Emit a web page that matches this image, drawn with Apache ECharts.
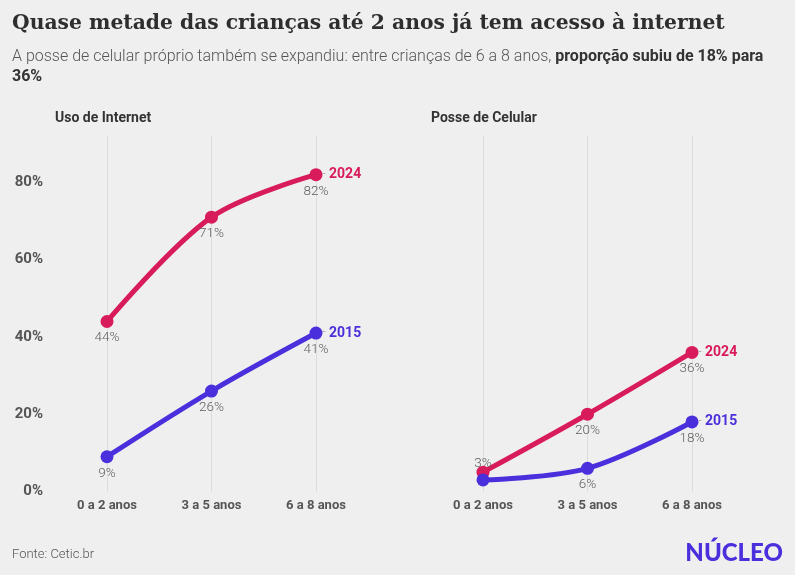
<!DOCTYPE html>
<html>
<head>
<meta charset="utf-8">
<script src="https://cdn.jsdelivr.net/npm/echarts@6/dist/echarts.min.js"></script>
<style>
  html, body { margin: 0; padding: 0; background: #efefef; }
  #chart { width: 795px; height: 575px; }
</style>
</head>
<body>
<div id="chart"></div>
<script>
// ---- Data ----
const categories = ['0 a 2 anos', '3 a 5 anos', '6 a 8 anos'];
const internet2024 = [44, 71, 82];
const internet2015 = [9, 26, 41];
const celular2024 = [5, 20, 36];
const celular2015 = [3, 6, 18];
const yTicks = [0, 20, 40, 60, 80];
const seriesNames = ['2024', '2015'];

const RED = '#d81b5b';
const BLUE = '#4a2fdc';
const FONT = 'Roboto, "Noto Sans", sans-serif';

function buildData(values, opts) {
  return values.map(function (v, i) {
    const item = { value: v };
    if (opts && opts.hide && opts.hide.indexOf(i) >= 0) item.label = { show: false };
    if (opts && opts.top && opts.top.indexOf(i) >= 0) item.label = { position: 'top' };
    return item;
  });
}

function lineSeries(name, color, values, gridIdx, opts) {
  return {
    type: 'line',
    name: name,
    xAxisIndex: gridIdx,
    yAxisIndex: gridIdx,
    data: buildData(values, opts),
    smooth: 0.34,
    symbol: 'circle',
    symbolSize: 13,
    lineStyle: { color: color, width: 5 },
    itemStyle: { color: color },
    label: {
      show: true,
      position: 'bottom',
      distance: 3,
      formatter: function (p) { return p.value + '%'; },
      color: '#5e5e5e',
      fontFamily: FONT,
      fontWeight: 300,
      fontSize: 13.5
    },
    endLabel: {
      show: true,
      distance: 6,
      formatter: function (p) { return '{d|-} {t|' + p.seriesName + '}'; },
      rich: {
        d: { color: '#999', fontFamily: FONT, fontWeight: 300, fontSize: 13 },
        t: { color: color, fontFamily: FONT, fontWeight: 'bold', fontSize: 14 }
      }
    },
    emphasis: { disabled: true },
    silent: true
  };
}

function xAxis(gridIdx) {
  return {
    type: 'category',
    gridIndex: gridIdx,
    data: categories,
    boundaryGap: false,
    axisLine: { show: false },
    axisTick: { show: false },
    axisLabel: {
      margin: 8,
      color: '#555',
      fontFamily: FONT,
      fontWeight: 'bold',
      fontSize: 13
    },
    splitLine: { show: true, lineStyle: { color: '#dcdcdc', width: 1 } }
  };
}

function yAxis(gridIdx, showLabels) {
  return {
    type: 'value',
    gridIndex: gridIdx,
    min: yTicks[0],
    max: 92,
    interval: 20,
    axisLine: { show: false },
    axisTick: { show: false },
    splitLine: { show: false },
    axisLabel: {
      show: showLabels,
      margin: 64,
      color: '#555',
      fontFamily: FONT,
      fontWeight: 'bold',
      fontSize: 15,
      formatter: function (v) { return yTicks.indexOf(v) >= 0 ? v + '%' : ''; }
    }
  };
}

const chart = echarts.init(document.getElementById('chart'));
chart.setOption({
  backgroundColor: '#efefef',
  animation: false,
  title: [
    {
      text: 'Quase metade das crianças até 2 anos já tem acesso à internet',
      left: 12, top: 10, padding: 0,
      textStyle: { fontFamily: '"DejaVu Serif", serif', fontWeight: 'bold', fontSize: 20.3, color: '#2e2e2e', lineHeight: 28 }
    },
    {
      text: '{n|A posse de celular próprio também se expandiu: entre crianças de 6 a 8 anos, }{b|proporção subiu de 18% para}\n{b|36%}',
      left: 12, top: 47, padding: 0,
      textStyle: {
        rich: {
          n: { fontFamily: FONT, fontWeight: 300, fontSize: 16, color: '#555', lineHeight: 20 },
          b: { fontFamily: FONT, fontWeight: 'bold', fontSize: 16, color: '#333', lineHeight: 20 }
        }
      }
    },
    {
      text: 'Uso de Internet', left: 55, top: 109, padding: 0,
      textStyle: { fontFamily: FONT, fontWeight: 'bold', fontSize: 14, color: '#333', lineHeight: 18 }
    },
    {
      text: 'Posse de Celular', left: 431, top: 109, padding: 0,
      textStyle: { fontFamily: FONT, fontWeight: 'bold', fontSize: 14, color: '#333', lineHeight: 18 }
    },
    {
      text: 'Fonte: Cetic.br', left: 12, top: 547, padding: 0,
      textStyle: { fontFamily: FONT, fontWeight: 300, fontSize: 13, color: '#555', lineHeight: 16 }
    }
  ],
  graphic: [
    {
      type: 'text', right: 12, top: 541,
      style: { text: 'NÚCLEO', fill: BLUE, font: '900 24px Lato, Roboto, sans-serif' }
    }
  ],
  grid: [
    { left: 107, width: 209, top: 136, bottom: 83.5 },
    { left: 483, width: 209, top: 136, bottom: 83.5 }
  ],
  xAxis: [xAxis(0), xAxis(1)],
  yAxis: [yAxis(0, true), yAxis(1, false)],
  series: [
    lineSeries(seriesNames[0], RED, internet2024, 0),
    lineSeries(seriesNames[1], BLUE, internet2015, 0),
    lineSeries(seriesNames[0], RED, celular2024, 1, { hide: [0] }),
    lineSeries(seriesNames[1], BLUE, celular2015, 1, { top: [0] })
  ]
});
</script>
</body>
</html>
